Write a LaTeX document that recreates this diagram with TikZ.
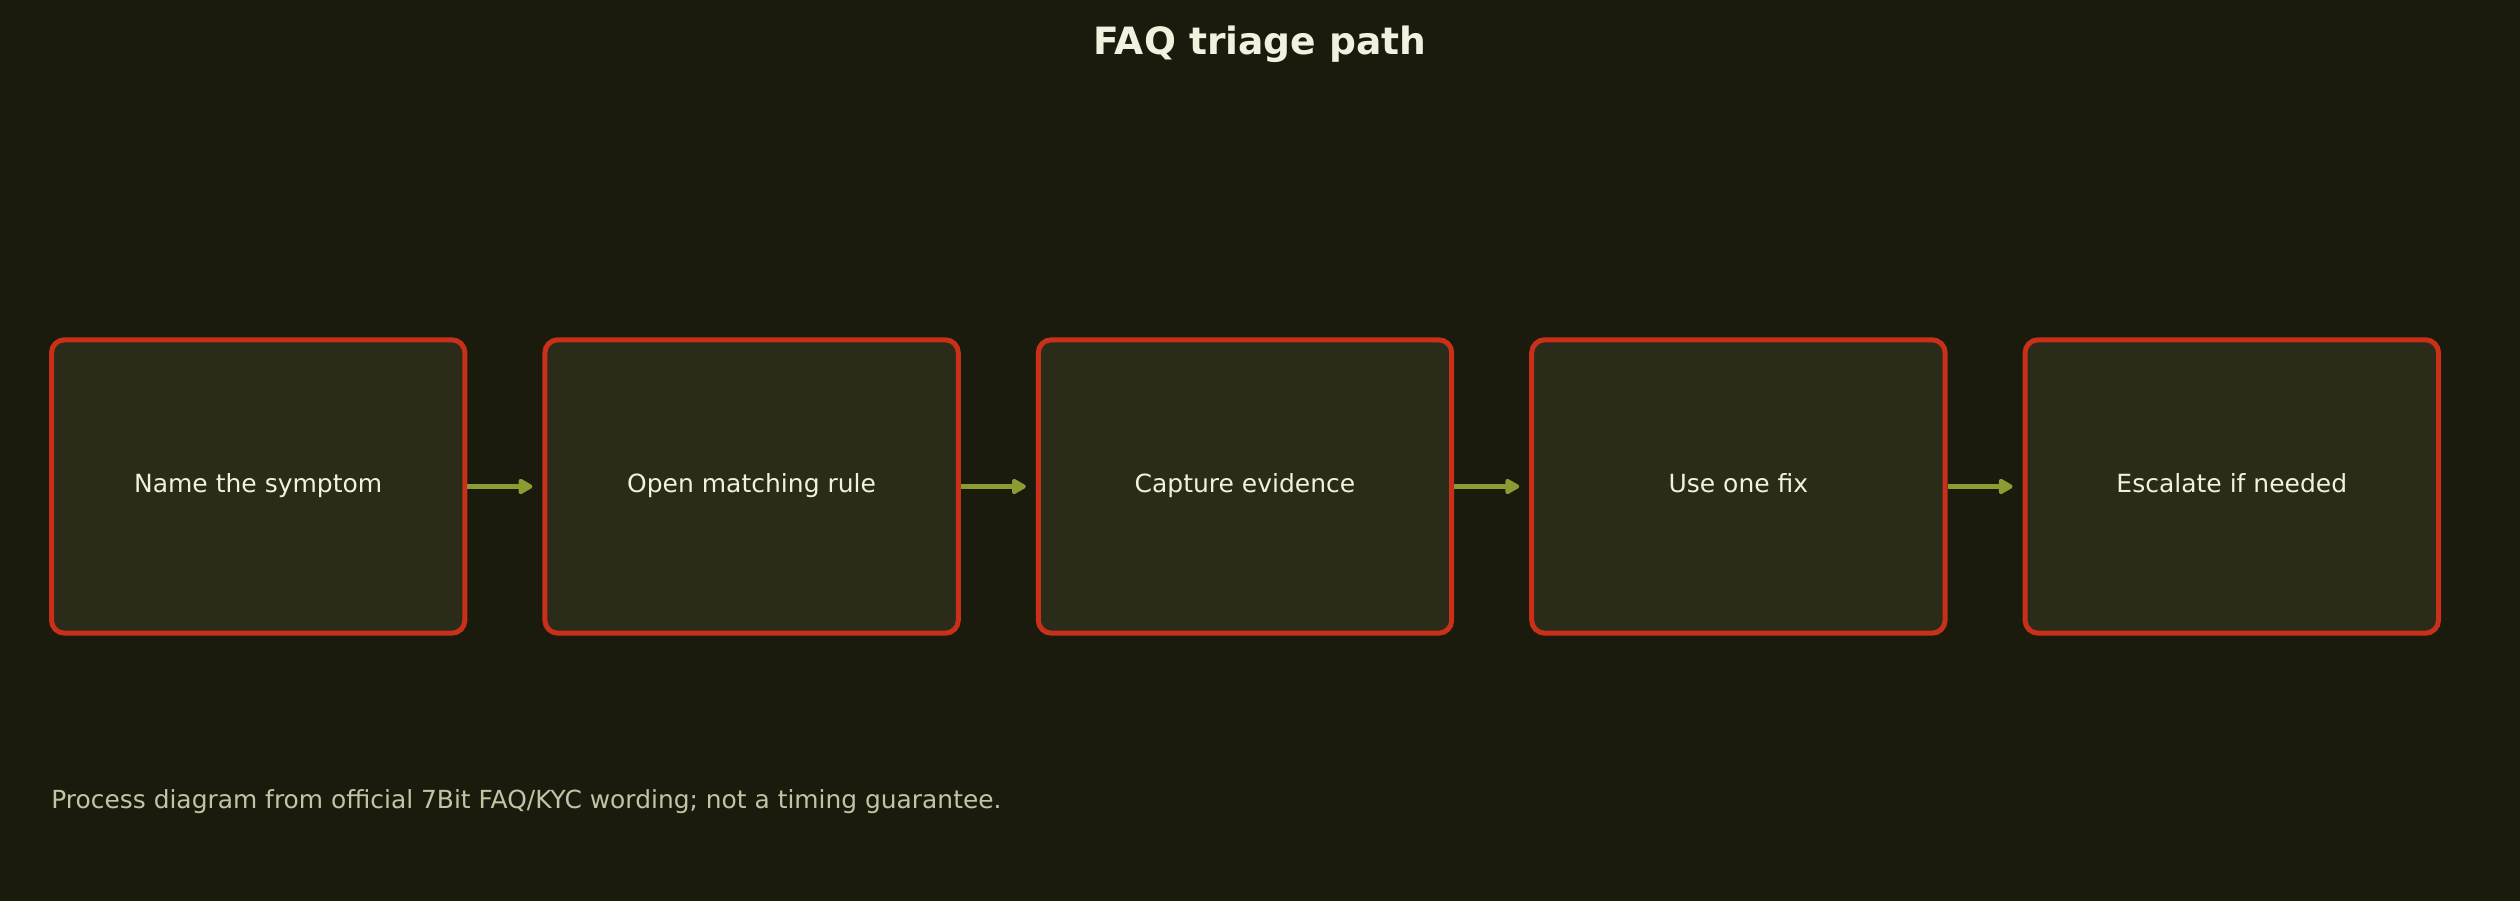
\documentclass[tikz,border=0pt]{standalone}
\usepackage{fontspec}
\setmainfont{DejaVu Sans}
\usepackage{tikz}
\usetikzlibrary{positioning}
\usetikzlibrary{arrows.meta}

\definecolor{bgcol}{HTML}{1A1B0C}
\definecolor{boxfill}{HTML}{2A2B18}
\definecolor{boxline}{HTML}{C9301A}
\definecolor{linkcol}{HTML}{8C9C32}
\definecolor{textcol}{HTML}{F2F0DE}
\definecolor{notecol}{HTML}{C6C2A6}

\begin{document}
\begin{tikzpicture}[stage/.style = {draw=boxline, fill=boxfill, line width=2.5pt, rounded corners=6.5pt, minimum width=206.7pt, minimum height=146.7pt, text=textcol, text height=9pt, text depth=2.6pt, font=\fontsize{12.5}{15}\selectfont}, link/.style = {draw=linkcol, line width=2.4pt, -{Triangle[length=8pt,width=8.5pt,round]}, shorten >=5pt}]
            \useasboundingbox (0,0) rectangle (1260pt,450pt);
            \fill[bgcol] (-5pt,-5pt) rectangle (1265pt,455pt);
            \node[text=textcol, font=\bfseries\fontsize{18.8}{22}\selectfont](title) at (630pt,428pt){FAQ triage path};
            \node[stage](symptom) at (129.1pt,206.75pt){Name the symptom};
            \node[stage](rule)[right=37.5pt of symptom]{Open matching rule};
            \node[stage](evidence)[right=37.5pt of rule]{Capture evidence};
            \node[stage](fix)[right=37.5pt of evidence]{Use one fix};
            \node[stage](escalate)[right=37.5pt of fix]{Escalate if needed};
            \draw[link] (symptom) -- (rule);
            \draw[link] (rule) -- (evidence);
            \draw[link] (evidence) -- (fix);
            \draw[link] (fix) -- (escalate);
            \node[anchor=west, inner sep=0pt, text=notecol, font=\fontsize{12.45}{15}\selectfont](note) at (25.5pt,49pt){Process diagram from official 7Bit FAQ/KYC wording; not a timing guarantee.};
        \end{tikzpicture}
\end{document}
